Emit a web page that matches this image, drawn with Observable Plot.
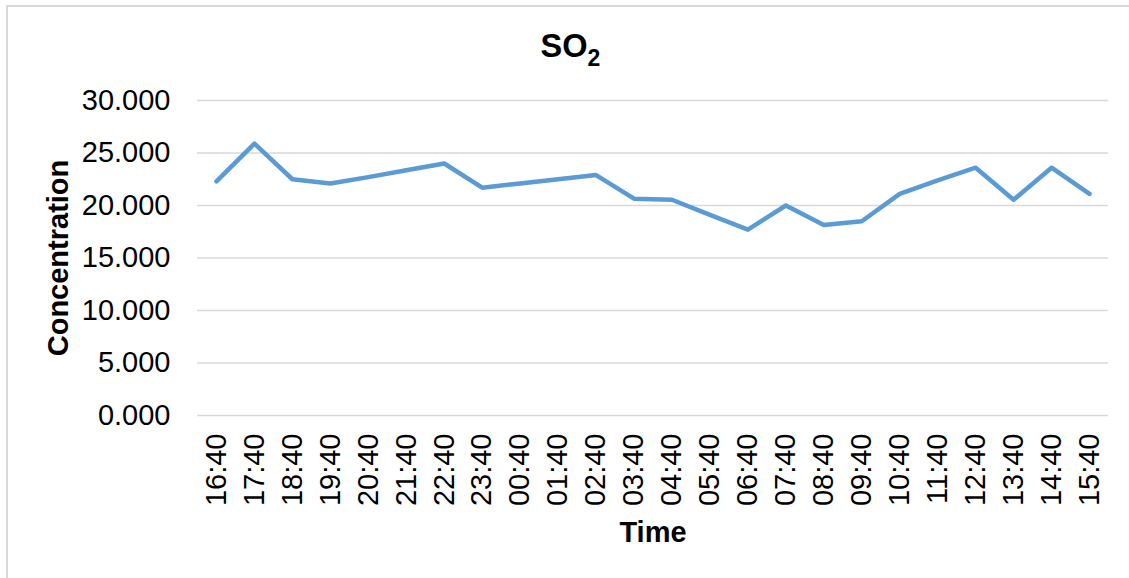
<!DOCTYPE html>
<html>
<head>
<meta charset="utf-8">
<script src="https://cdn.jsdelivr.net/npm/d3@7"></script>
<script src="https://cdn.jsdelivr.net/npm/@observablehq/plot@0.6"></script>
<style>
  body { margin: 0; background: #fff; }
  #wrap { position: relative; width: 1129px; height: 578px; overflow: hidden; background: #fff; }
  #frame { position: absolute; left: 6px; top: 5px; width: 1300px; height: 700px;
           border-left: 2px solid #d9d9d9; border-top: 2px solid #d9d9d9; }
  #title { position: absolute; left: 6px; top: 30px; width: 1129px; text-align: center;
           font: bold 32.5px "Liberation Sans", Arial, sans-serif; line-height: 1; color: #000; }
  #title .sub { font-size: 23px; position: relative; top: 8.7px; }
  #chart { position: absolute; left: 0; top: 0; }
</style>
</head>
<body>
<div id="wrap">
  <div id="frame"></div>
  <div id="chart"></div>
  <div id="title">SO<span class="sub">2</span></div>
</div>
<script>
// Hourly SO2 readings
const times = ["16:40", "17:40", "18:40", "19:40", "20:40", "21:40", "22:40", "23:40",
               "00:40", "01:40", "02:40", "03:40", "04:40", "05:40", "06:40", "07:40",
               "08:40", "09:40", "10:40", "11:40", "12:40", "13:40", "14:40", "15:40"];
const concentration = [22.3, 25.9, 22.5, 22.1, 22.7, 23.35, 24.0, 21.7,
                       22.1, 22.5, 22.9, 20.65, 20.55, 19.1, 17.7, 20.0,
                       18.15, 18.5, 21.1, 22.4, 23.6, 20.55, 23.6, 21.1];
const yTicks = [0, 5, 10, 15, 20, 25, 30];

const data = times.map((t, i) => ({time: t, value: concentration[i]}));

const chart = Plot.plot({
  width: 1129,
  height: 578,
  marginLeft: 197,
  marginRight: 21,
  marginTop: 100,
  marginBottom: 163,
  style: {fontFamily: "'Liberation Sans', Arial, sans-serif", fontSize: "29px", color: "#000", background: "transparent"},
  x: {type: "point", domain: times, padding: 0.5, round: false},
  y: {domain: [0, 30]},
  marks: [
    Plot.ruleY(yTicks, {stroke: "#d9d9d9", strokeWidth: 1.5}),
    Plot.axisY(yTicks, {tickSize: 0, tickPadding: 27, tickFormat: d3.format(".3f"), label: null, fontSize: 29}),
    Plot.axisX({tickSize: 0, tickPadding: 18, tickRotate: -90, label: null, fontSize: 29}),
    Plot.line(data, {x: "time", y: "value", stroke: "#5b9bd5", strokeWidth: 4.5,
                     strokeLinejoin: "round", strokeLinecap: "round"}),
    Plot.text(["Concentration"], {text: d => d, frameAnchor: "left", dx: -139, rotate: -90,
                                  textAnchor: "middle", lineAnchor: "middle",
                                  fontWeight: "bold", fontSize: 29, fill: "#000"}),
    Plot.text(["Time"], {text: d => d, frameAnchor: "bottom", dy: 117,
                         textAnchor: "middle", lineAnchor: "middle",
                         fontWeight: "bold", fontSize: 29, fill: "#000"})
  ]
});
document.getElementById("chart").appendChild(chart);
</script>
</body>
</html>
